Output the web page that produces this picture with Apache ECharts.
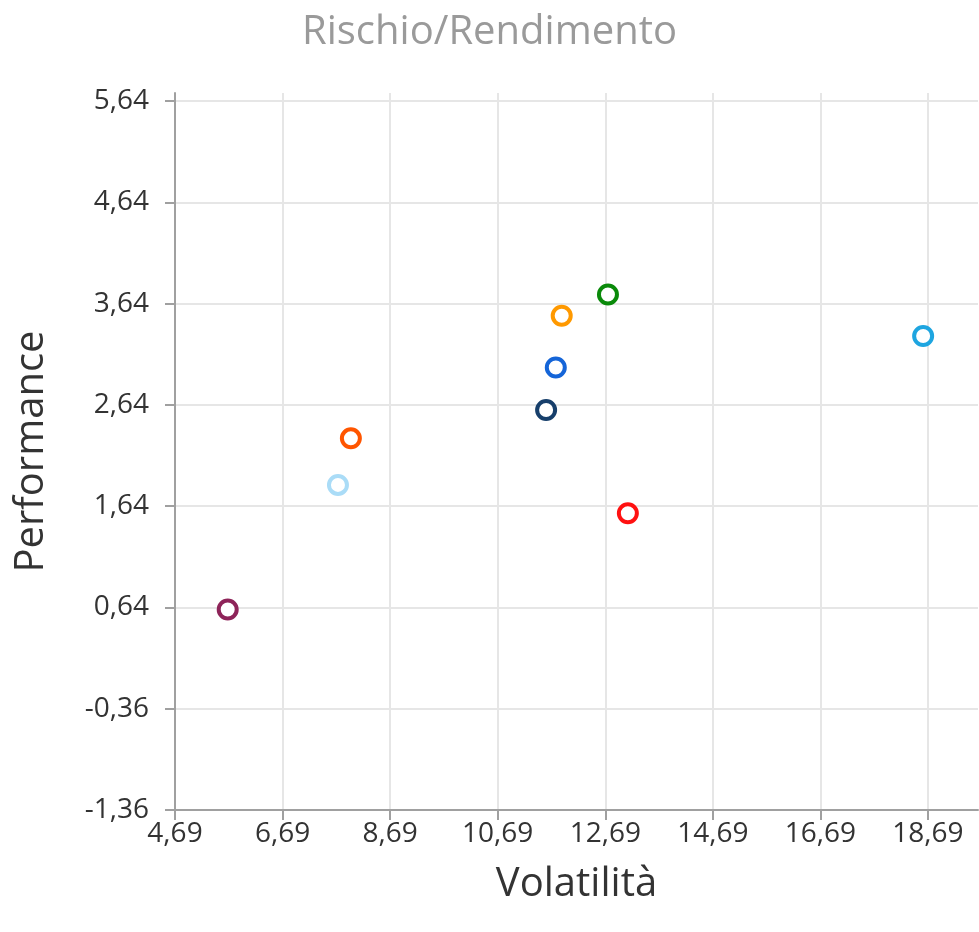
<!DOCTYPE html>
<html>
<head>
<meta charset="utf-8">
<script src="https://cdn.jsdelivr.net/npm/echarts@6/dist/echarts.min.js"></script>
<style>
  html, body { margin: 0; padding: 0; background: #fff; }
  #chart { width: 979px; height: 932px; }
</style>
</head>
<body>
<div id="chart"></div>
<script>
// volatilità (x) e performance (y) per ogni punto
const volatility = [5.67, 7.72, 7.96, 11.59, 11.77, 11.88, 12.74, 13.11, 18.60]
const performance = [0.62, 1.85, 2.31, 2.59, 3.01, 3.52, 3.73, 1.57, 3.32]
const xTicks = [4.69, 6.69, 8.69, 10.69, 12.69, 14.69, 16.69, 18.69]
const yTicks = [-1.36, -0.36, 0.64, 1.64, 2.64, 3.64, 4.64, 5.64]

const palette = ['#8e2459', '#aadcf7', '#ff5500', '#173f6b', '#1565d8', '#ff9900', '#0a8a0a', '#ff1111', '#1ea5e0']

const fontFamily = 'Open Sans'
const fmt = (v) => v.toFixed(2).replace('.', ',')

let chart = echarts.init(document.getElementById('chart'))
let option = {
  animation: false,
  textStyle: { fontFamily: fontFamily },
  title: {
    text: 'Rischio/Rendimento',
    left: 'center',
    top: 8,
    textStyle: {
      fontFamily: fontFamily,
      fontSize: 40,
      fontWeight: 'normal',
      color: '#9a9a9a',
    },
  },
  grid: {
    left: 175,
    right: 1,
    top: 93,
    bottom: 122,
    containLabel: false,
    outerBoundsMode: 'none',
  },
  xAxis: {
    type: 'value',
    min: 4.69,
    max: 19.62,
    name: 'Volatilità',
    nameLocation: 'middle',
    nameGap: 55,
    nameTextStyle: { fontFamily: fontFamily, fontSize: 40, color: '#333' },
    axisLine: { show: true, onZero: false, lineStyle: { color: '#a0a0a0', width: 2 } },
    axisTick: {
      show: true,
      length: 10,
      customValues: xTicks,
      lineStyle: { color: '#a0a0a0', width: 2 },
    },
    axisLabel: {
      customValues: xTicks,
      margin: 10,
      fontSize: 28,
      color: '#333',
      formatter: fmt,
    },
    splitLine: { show: true, lineStyle: { color: '#e6e6e6', width: 2 } },
  },
  yAxis: {
    type: 'value',
    min: -1.36,
    max: 5.72,
    name: 'Performance',
    nameLocation: 'middle',
    nameGap: 123,
    nameTextStyle: { fontFamily: fontFamily, fontSize: 40, color: '#333' },
    axisLine: { show: true, onZero: false, lineStyle: { color: '#a0a0a0', width: 2 } },
    axisTick: {
      show: true,
      length: 10,
      customValues: yTicks,
      lineStyle: { color: '#a0a0a0', width: 2 },
    },
    axisLabel: {
      customValues: yTicks,
      margin: 26,
      fontSize: 28,
      color: '#333',
      formatter: fmt,
    },
    splitLine: { show: true, lineStyle: { color: '#e6e6e6', width: 2 } },
  },
  series: [
    {
      type: 'scatter',
      symbol: 'circle',
      symbolSize: 18,
      data: volatility.map((v, i) => ({
        value: [v, performance[i]],
        itemStyle: { color: '#fff', borderColor: palette[i], borderWidth: 4, opacity: 1 },
      })),
    },
  ],
}

chart.setOption(option)
</script>
</body>
</html>
